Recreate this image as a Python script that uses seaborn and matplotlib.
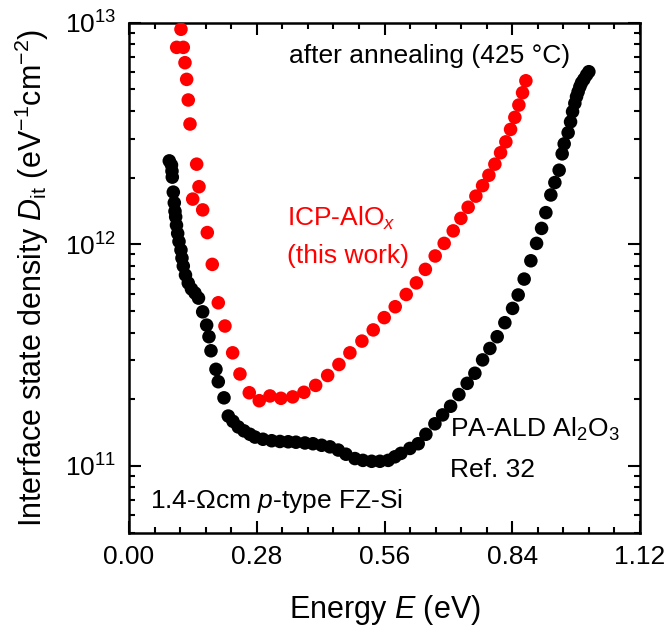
import numpy as np
import pandas as pd
import matplotlib
matplotlib.use("Agg")
import matplotlib.pyplot as plt
import matplotlib.ticker as mticker
import seaborn as sns

# ---- data ----
icp_E = [0.1139, 0.1045, 0.1190, 0.1227, 0.1264, 0.1299, 0.1337, 0.1483, 0.1396, 0.1534,
         0.1615, 0.1716, 0.1825, 0.1957, 0.2103, 0.2272, 0.2432, 0.2636, 0.2855, 0.3089,
         0.3330, 0.3587, 0.3834, 0.4091, 0.4354, 0.4601, 0.4842, 0.5105, 0.5353, 0.5594,
         0.5835, 0.6076, 0.6299, 0.6496, 0.6711, 0.6908, 0.7106, 0.7274, 0.7434, 0.7603,
         0.7750, 0.7888, 0.8019, 0.8144, 0.8260, 0.8363, 0.8457, 0.8545, 0.8626, 0.8699]
icp_D = [9.34e12, 7.74e12, 7.74e12, 6.60e12, 5.55e12, 4.48e12, 3.49e12, 2.30e12, 1.60e12, 1.82e12,
         1.43e12, 1.13e12, 8.12e11, 5.45e11, 4.28e11, 3.24e11, 2.60e11, 2.14e11, 1.97e11, 2.07e11,
         2.02e11, 2.05e11, 2.15e11, 2.31e11, 2.56e11, 2.87e11, 3.24e11, 3.66e11, 4.11e11, 4.67e11,
         5.23e11, 5.94e11, 6.70e11, 7.71e11, 8.86e11, 1.01e12, 1.15e12, 1.31e12, 1.47e12, 1.65e12,
         1.84e12, 2.05e12, 2.30e12, 2.59e12, 2.90e12, 3.30e12, 3.74e12, 4.25e12, 4.83e12, 5.47e12]

ald_E = [0.0883, 0.0931, 0.0942, 0.0949, 0.0971, 0.0993, 0.1008, 0.1023, 0.1041, 0.1067,
         0.1096, 0.1139, 0.1161, 0.1190, 0.1238, 0.1299, 0.1369, 0.1446, 0.1523, 0.1615,
         0.1702, 0.1753, 0.1797, 0.1906, 0.1957, 0.2082, 0.2176, 0.2279, 0.2395, 0.2520,
         0.2651, 0.2761, 0.2936, 0.3127, 0.3308, 0.3490, 0.3659, 0.3856, 0.4032, 0.4222,
         0.4404, 0.4586, 0.4755, 0.4952, 0.5127, 0.5318, 0.5500, 0.5681, 0.5828, 0.5960,
         0.6157, 0.6339, 0.6507, 0.6705, 0.6873, 0.7049, 0.7231, 0.7412, 0.7581, 0.7750,
         0.7910, 0.8070, 0.8238, 0.8407, 0.8530, 0.8661, 0.8808, 0.8933, 0.9043, 0.9137,
         0.9246, 0.9334, 0.9428, 0.9494, 0.9538, 0.9625, 0.9678, 0.9722, 0.9772, 0.9809,
         0.9844, 0.9882, 0.9919, 0.9969, 1.0028, 1.0079]
ald_D = [2.38e12, 2.28e12, 2.14e12, 2.01e12, 1.72e12, 1.54e12, 1.41e12, 1.33e12, 1.22e12, 1.12e12,
         1.03e12, 9.43e11, 8.67e11, 7.98e11, 7.27e11, 6.69e11, 6.29e11, 6.03e11, 5.72e11, 4.96e11,
         4.32e11, 3.83e11, 3.31e11, 2.73e11, 2.40e11, 2.03e11, 1.68e11, 1.59e11, 1.50e11, 1.44e11,
         1.39e11, 1.35e11, 1.32e11, 1.30e11, 1.29e11, 1.286e11, 1.28e11, 1.27e11, 1.26e11, 1.24e11,
         1.22e11, 1.18e11, 1.13e11, 1.08e11, 1.06e11, 1.05e11, 1.05e11, 1.06e11, 1.10e11, 1.14e11,
         1.20e11, 1.26e11, 1.39e11, 1.55e11, 1.70e11, 1.86e11, 2.10e11, 2.36e11, 2.62e11, 3.01e11,
         3.39e11, 3.83e11, 4.43e11, 5.14e11, 5.91e11, 6.97e11, 8.43e11, 1.01e12, 1.18e12, 1.39e12,
         1.67e12, 1.90e12, 2.16e12, 2.56e12, 2.84e12, 3.19e12, 3.57e12, 3.97e12, 4.33e12, 4.64e12,
         4.88e12, 5.14e12, 5.36e12, 5.55e12, 5.81e12, 6.01e12]

x_ticks = [0.00, 0.28, 0.56, 0.84, 1.12]
series_names = ["PA-ALD", "ICP"]

# ---- style ----
sns.set_style("ticks")
plt.rcParams["font.family"] = ["Liberation Sans", "DejaVu Sans"]
plt.rcParams["mathtext.fontset"] = "custom"
plt.rcParams["mathtext.rm"] = "Liberation Sans"
plt.rcParams["mathtext.it"] = "Liberation Sans:italic"
plt.rcParams["mathtext.bf"] = "Liberation Sans:bold"
plt.rcParams["text.color"] = "black"
plt.rcParams["axes.labelcolor"] = "black"
plt.rcParams["xtick.color"] = "black"
plt.rcParams["ytick.color"] = "black"
plt.rcParams["axes.edgecolor"] = "black"

df = pd.concat([
    pd.DataFrame({"E": ald_E, "Dit": ald_D, "series": series_names[0]}),
    pd.DataFrame({"E": icp_E, "Dit": icp_D, "series": series_names[1]}),
], ignore_index=True)

fig = plt.figure(figsize=(6.69, 6.44), dpi=100)
ax = fig.add_axes([129 / 669, (644 - 532.7) / 644, (640 - 129) / 669, (532.7 - 22.7) / 644])

sns.scatterplot(data=df, x="E", y="Dit", hue="series",
                palette={"PA-ALD": "#000000", "ICP": "#ff0000"},
                s=95, linewidth=0, alpha=1, legend=False, ax=ax, zorder=3)

ax.set_yscale("log")
ax.set_xlim(0.0, 1.12)
ax.set_ylim(5e10, 1e13)

ax.xaxis.set_major_locator(mticker.FixedLocator(x_ticks))
ax.xaxis.set_major_formatter(mticker.FormatStrFormatter("%.2f"))
ax.xaxis.set_minor_locator(mticker.MultipleLocator(0.056))
ax.yaxis.set_major_locator(mticker.LogLocator(base=10, numticks=10))
ax.yaxis.set_minor_locator(mticker.LogLocator(base=10, subs=np.arange(2, 10), numticks=20))
ax.yaxis.set_minor_formatter(mticker.NullFormatter())

ax.tick_params(which="both", direction="in", top=True, right=True, width=1.5, colors="black")
ax.tick_params(which="major", length=8.5, labelsize=19, pad=9)
ax.tick_params(which="minor", length=4.5)
for sp in ax.spines.values():
    sp.set_linewidth(1.8)
    sp.set_color("black")

ax.set_xlabel(r"Energy $E$ (eV)", fontsize=22, labelpad=17)
ax.set_ylabel(r"Interface state density $D_{\mathrm{it}}$ (eV$^{-1}$cm$^{-2}$)", fontsize=22, labelpad=10)

def axf(px, py):
    return ((px - 129) / 511, (532.7 - py) / 510)

fs = 19
ax.text(*axf(289, 63), "after annealing (425 °C)", transform=ax.transAxes, fontsize=fs, va="baseline", ha="left")
ax.text(*axf(287, 226), r"ICP-AlO$_x$", transform=ax.transAxes, fontsize=fs, color="#ff0000", va="baseline", ha="left")
ax.text(*axf(287, 263), "(this work)", transform=ax.transAxes, fontsize=fs, color="#ff0000", va="baseline", ha="left")
ax.text(*axf(450, 437), r"PA-ALD Al$_2$O$_3$", transform=ax.transAxes, fontsize=fs, va="baseline", ha="left")
ax.text(*axf(450, 477), "Ref. 32", transform=ax.transAxes, fontsize=fs, va="baseline", ha="left")
ax.text(*axf(150, 508), r"1.4-$\Omega$cm $p$-type FZ-Si", transform=ax.transAxes, fontsize=fs, va="baseline", ha="left")

fig.savefig("out.png", dpi=100)
